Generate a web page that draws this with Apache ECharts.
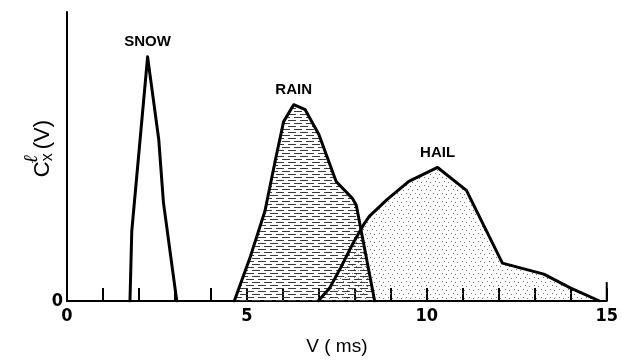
<!DOCTYPE html>
<html><head><meta charset="utf-8">
<script src="https://cdn.jsdelivr.net/npm/echarts@6/dist/echarts.min.js"></script>
<style>html,body{margin:0;padding:0;background:#fff}#c{width:621px;height:361px}</style>
</head><body><div id="c"></div>
<script>
// ---- data (V in m/s, C in arbitrary units) ----
const xTickLabels = [0, 5, 10, 15];
const snowV = [1.75, 1.80, 2.24, 2.55, 2.68, 3.05];
const snowC = [0, 70, 245, 162, 99, 0];
const rainV = [4.65, 5.10, 5.50, 5.80, 6.02, 6.30, 6.62, 7.00, 7.48, 7.93, 8.04, 8.55];
const rainC = [0, 45, 90, 143, 180, 197, 192, 167, 120, 103, 96, 0];
const hailV = [6.98, 7.30, 7.60, 7.95, 8.25, 8.40, 8.90, 9.50, 10.30, 11.10, 12.10, 13.25, 14.00, 14.80];
const hailC = [0, 13, 33, 58, 77, 85, 102, 120, 134, 111, 38, 27, 13, 0];
const peakNames = ['SNOW', 'RAIN', 'HAIL'];
const peakIndex = [2, 5, 8];
const yMax = 290;

function pair(v, c) { return v.map((x, i) => [x, c[i]]); }
function pattern(draw, w, h) {
  const c = document.createElement('canvas'); c.width = w; c.height = h;
  const ctx = c.getContext('2d'); draw(ctx); return {image: c, repeat: 'repeat'};
}
const rainFill = pattern(ctx => {
  ctx.fillStyle = '#3a3a3a';
  ctx.fillRect(0, 0, 8, 1);
  ctx.fillRect(6, 3, 6, 1); ctx.fillRect(0, 3, 2, 1);
}, 12, 6);
const hailFill = pattern(ctx => {
  ctx.fillStyle = '#777';
  [[1,1],[5,2],[3,5],[7,6]].forEach(p => ctx.fillRect(p[0], p[1], 1, 1));
}, 9, 8);

const font = 'Liberation Sans Narrow, DejaVu Sans Condensed, Arial Narrow, sans-serif';
const sans = 'Liberation Sans, Arial, sans-serif';
const chart = echarts.init(document.getElementById('c'), null, {renderer: 'canvas'});
function area(v, c, fill) {
  return {type: 'line', data: pair(v, c), showSymbol: false, silent: true,
    lineStyle: {width: 0}, areaStyle: {color: fill, opacity: 1}, z: 1};
}
function line(v, c) {
  return {type: 'line', data: pair(v, c), symbol: 'none', showSymbol: false, silent: true,
    lineStyle: {color: '#000', width: 3, join: 'round', cap: 'round'}, z: 3};
}
const series3 = [[snowV, snowC], [rainV, rainC], [hailV, hailC]];
const peakData = series3.map((s, k) => ({
  value: [s[0][peakIndex[k]], s[1][peakIndex[k]]], name: peakNames[k]
}));
chart.setOption({
  animation: false,
  grid: {left: 67, right: 12, top: 12, bottom: 59},
  xAxis: {
    type: 'value', min: 0, max: 15, interval: 1,
    axisLine: {lineStyle: {color: '#000', width: 2}},
    axisTick: {inside: true, length: 13, lineStyle: {color: '#000', width: 2}},
    splitLine: {show: false},
    axisLabel: {color: '#000', fontSize: 18, fontWeight: 'bold', fontFamily: font, margin: 6,
      formatter: v => xTickLabels.includes(v) ? String(v) : ''},
    name: 'V ( ms)', nameLocation: 'middle', nameGap: 36,
    nameTextStyle: {color: '#000', fontSize: 19, fontFamily: sans}
  },
  yAxis: {
    type: 'value', min: 0, max: yMax, interval: yMax,
    axisLine: {show: true, lineStyle: {color: '#000', width: 2}},
    axisTick: {show: false}, splitLine: {show: false},
    axisLabel: {color: '#000', fontSize: 18, fontWeight: 'bold', fontFamily: font, margin: 4,
      padding: [0, 0, 8, 0], formatter: v => v === 0 ? '0' : ''}
  },
  graphic: [{
    type: 'group', left: 22, top: 120, rotation: Math.PI / 2,
    children: [
      {type: 'text', x: -66, y: 0, style: {text: 'C', fontSize: 22, fill: '#000', fontFamily: sans}},
      {type: 'text', x: -50, y: 8, style: {text: 'x', fontSize: 16, fill: '#000', fontFamily: sans}},
      {type: 'text', x: -52, y: -10, style: {text: 'ℓ', fontSize: 20, fontWeight: 'bold', fontStyle: 'italic', fill: '#000', fontFamily: 'DejaVu Serif, serif'}},
      {type: 'text', x: -38, y: 0, style: {text: '(V)', fontSize: 22, fill: '#000', fontFamily: sans}}
    ]
  }],
  series: [
    area(rainV, rainC, rainFill),
    area(hailV, hailC, hailFill),
    line(snowV, snowC),
    line(rainV, rainC),
    line(hailV, hailC),
    {type: 'scatter', data: peakData, symbolSize: 0, silent: true, z: 4,
      itemStyle: {opacity: 1},
      label: {show: true, formatter: p => p.name, position: 'top', distance: 7, opacity: 1,
        color: '#000', fontWeight: 'bold', fontSize: 15, fontFamily: sans, textBorderWidth: 0}},
    {type: 'line', data: [[15, 0], [15, 19]], symbol: 'none', silent: true,
      lineStyle: {color: '#000', width: 2}, z: 3}
  ]
});
</script></body></html>
